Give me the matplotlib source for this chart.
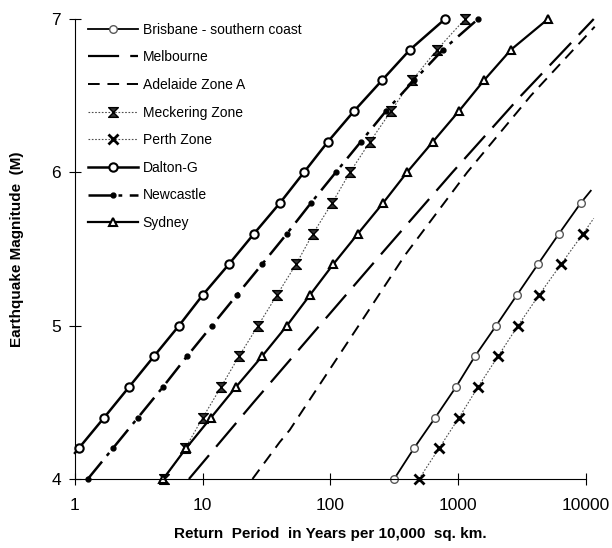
import matplotlib
matplotlib.use("Agg")
from matplotlib import pyplot as plt
from matplotlib.path import Path
import numpy as np

plt.rcParams['font.family'] = ['Liberation Sans', 'DejaVu Sans']

# magnitudes and return periods (years per 10,000 sq. km)
bris_m = [4.0, 4.2, 4.4, 4.6, 4.8, 5.0, 5.2, 5.4, 5.6, 5.8, 5.88]
bris_t = [315, 450, 660, 960, 1350, 1980, 2880, 4200, 6150, 9100, 10900]

melb_m = [4.0, 4.5, 5.0, 5.5, 6.0, 6.5, 7.0]
melb_t = [7.8, 25, 82, 270, 900, 3100, 11500]

adel_m = [4.0, 4.24, 4.32, 5.0, 5.46, 6.0, 6.5, 6.95]
adel_t = [24.5, 40, 48, 166, 383, 1175, 3700, 11700]

meck_m = [4.0, 4.2, 4.4, 4.6, 4.8, 5.0, 5.2, 5.4, 5.6, 5.8, 6.0, 6.2, 6.4, 6.6, 6.8, 7.0]
meck_t = [5.0, 7.3, 10.0, 13.9, 19.2, 27.1, 38.1, 53.7, 72.9, 103, 142, 204, 298, 435, 682, 1130]

perth_m = [4.0, 4.2, 4.4, 4.6, 4.8, 5.0, 5.2, 5.4, 5.6, 5.7]
perth_t = [493, 707, 1014, 1428, 2047, 2936, 4287, 6370, 9480, 11500]

dalt_m = [4.17, 4.2, 4.4, 4.6, 4.8, 5.0, 5.2, 5.4, 5.6, 5.8, 6.0, 6.2, 6.4, 6.6, 6.8, 7.0]
dalt_t = [1.0, 1.07, 1.69, 2.65, 4.15, 6.52, 10.0, 16.0, 25.2, 40.2, 62, 95.5, 153, 253, 419, 788]

newc_m = [4.0, 4.2, 4.4, 4.6, 4.8, 5.0, 5.2, 5.4, 5.6, 5.8, 6.0, 6.2, 6.4, 6.6, 6.8, 7.0]
newc_t = [1.26, 1.98, 3.11, 4.88, 7.53, 11.8, 18.5, 29.1, 45.6, 70.3, 110, 173, 272, 451, 760, 1430]

syd_m = [4.0, 4.2, 4.4, 4.6, 4.8, 5.0, 5.2, 5.4, 5.6, 5.8, 6.0, 6.2, 6.4, 6.6, 6.8, 7.0]
syd_t = [4.9, 7.4, 11.6, 18.2, 29.1, 45.6, 69.1, 105, 164, 258, 397, 634, 1014, 1591, 2589, 5040]

# hourglass marker for Meckering
hourglass = Path([(-1, 1), (1, 1), (-1, -1), (1, -1), (-1, 1)],
                 [Path.MOVETO, Path.LINETO, Path.LINETO, Path.LINETO, Path.CLOSEPOLY])

fig = plt.figure(figsize=(6.12, 5.48), dpi=100)
ax = fig.add_axes([0.1225, 0.1259, 0.835, 0.8394])

ax.plot(bris_t, bris_m, color='black', lw=1.3, marker='o', ms=5.5, mfc='white',
        mec='0.35', mew=1.0, markevery=list(range(10)), clip_on=False,
        label='Brisbane - southern coast')
ax.plot(melb_t, melb_m, color='black', lw=1.6, dashes=(14, 5), clip_on=False,
        label='Melbourne')
ax.plot(adel_t, adel_m, color='black', lw=1.4, dashes=(6, 4), clip_on=False,
        label='Adelaide Zone A')
ax.plot(meck_t, meck_m, color='0.3', lw=0.8, dashes=(1.5, 1.5), marker=hourglass,
        ms=7, mfc='0.2', mec='black', mew=1.0, clip_on=False, label='Meckering Zone')
ax.plot(perth_t, perth_m, color='0.3', lw=0.8, dashes=(1.5, 1.5), marker='x', ms=7,
        mec='black', mew=2.0, markevery=list(range(9)), clip_on=False,
        label='Perth Zone')
ax.plot(dalt_t, dalt_m, color='black', lw=1.8, marker='o', ms=6, mfc='white',
        mec='black', mew=1.5, markevery=list(range(1, 16)), clip_on=False,
        label='Dalton-G')
ax.plot(newc_t, newc_m, color='black', lw=1.8, dashes=(9, 3, 1.5, 3), marker='o',
        ms=3.5, clip_on=False, label='Newcastle')
ax.plot(syd_t, syd_m, color='black', lw=1.6, marker='^', ms=6, mfc='white',
        mec='black', mew=1.5, clip_on=False, label='Sydney')

ax.set_xscale('log')
ax.set_xlim(1, 10000)
ax.set_ylim(4, 7)
ax.set_xticks([1, 10, 100, 1000, 10000])
ax.set_xticklabels(['1', '10', '100', '1000', '10000'])
ax.xaxis.set_minor_locator(matplotlib.ticker.NullLocator())
ax.set_yticks([4, 5, 6, 7])
ax.tick_params(direction='inout', length=8, width=0.8, labelsize=12.5, pad=6)
ax.tick_params(axis='x', pad=10)

for s in ['top', 'right']:
    ax.spines[s].set_visible(False)
for s in ['left', 'bottom']:
    ax.spines[s].set_linewidth(0.8)

ax.set_xlabel('Return  Period  in Years per 10,000  sq. km.', fontsize=11,
              fontweight='bold', labelpad=10)
ax.set_ylabel('Earthquake Magnitude  (M)', fontsize=11, fontweight='bold',
              labelpad=20)

ax.legend(loc='upper left', bbox_to_anchor=(0.01, 1.01), frameon=False, fontsize=10,
          handlelength=3.6, handletextpad=0.3, labelspacing=0.98, borderaxespad=0.2)

fig.savefig('out.png', dpi=100)
